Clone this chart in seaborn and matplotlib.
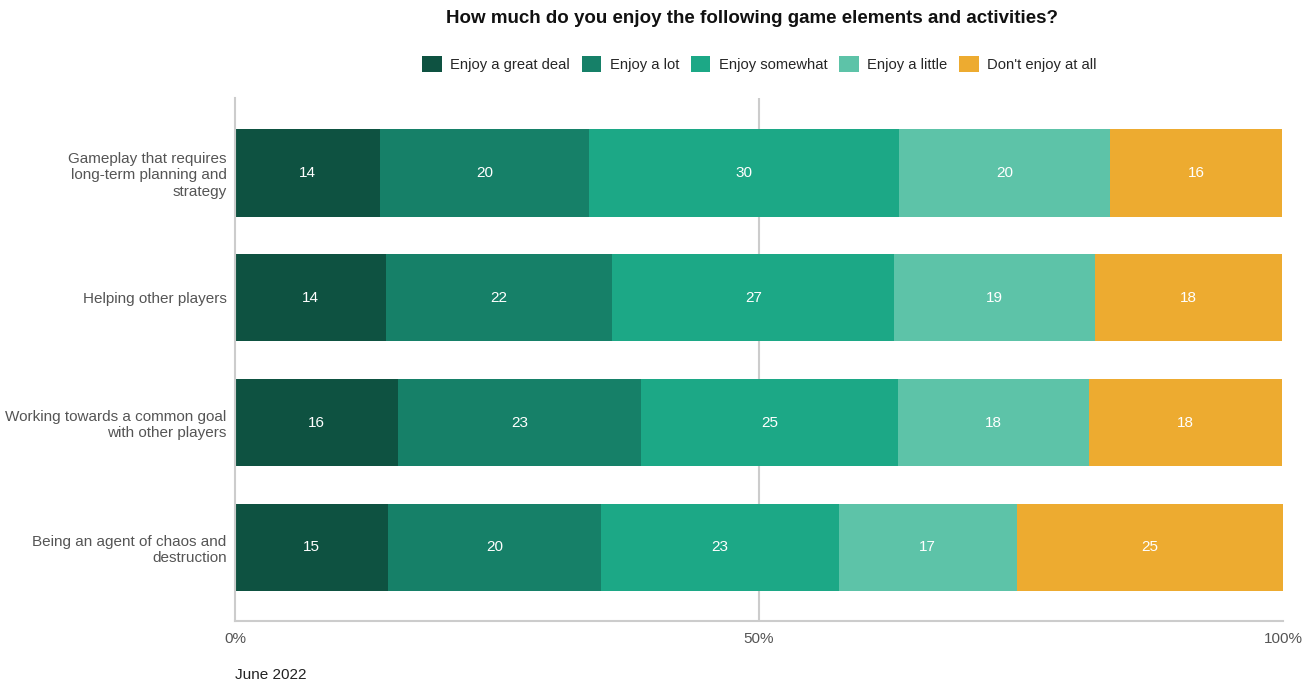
import numpy as np
import pandas as pd
import matplotlib
matplotlib.use("Agg")
import matplotlib.pyplot as plt
import seaborn as sns
from matplotlib.patches import Patch

# Survey data (percent of respondents)
categories = [
    "Gameplay that requires\nlong-term planning and\nstrategy",
    "Helping other players",
    "Working towards a common goal\nwith other players",
    "Being an agent of chaos and\ndestruction",
]
levels = ["Enjoy a great deal", "Enjoy a lot", "Enjoy somewhat", "Enjoy a little", "Don't enjoy at all"]
great_deal = [13.8, 14.4, 15.6, 14.6]
a_lot = [20.0, 21.6, 23.1, 20.3]
somewhat = [29.6, 26.9, 24.6, 22.7]
a_little = [20.1, 19.2, 18.2, 17.0]
not_at_all = [16.4, 17.8, 18.4, 25.4]
labels = [
    [14, 20, 30, 20, 16],
    [14, 22, 27, 19, 18],
    [16, 23, 25, 18, 18],
    [15, 20, 23, 17, 25],
]
colors = ["#0e5241", "#168068", "#1ca886", "#5dc3a8", "#edab30"]

sns.set_style("white")
plt.rcParams["font.family"] = ["Liberation Sans", "DejaVu Sans"]

df = pd.DataFrame({"category": categories})
series = [great_deal, a_lot, somewhat, a_little, not_at_all]
cum = np.cumsum(np.array(series), axis=0)

fig = plt.figure(figsize=(13.12, 6.85), dpi=100)
ax = fig.add_axes([0.1791, 0.0934, 0.7988, 0.7636])

# only a 50% gridline in the reference
ax.axvline(50, color="#cccccc", linewidth=1.5, zorder=0)

# stacked bars: draw cumulative totals from largest to smallest
for i in range(len(levels) - 1, -1, -1):
    d = df.copy()
    d["value"] = cum[i]
    sns.barplot(data=d, x="value", y="category", color=colors[i], orient="h",
                width=0.7, saturation=1, linewidth=0, ax=ax, zorder=2)

# value labels
for r in range(len(categories)):
    for i in range(len(levels)):
        start = cum[i - 1][r] if i > 0 else 0
        mid = start + series[i][r] / 2
        ax.text(mid, r, str(labels[r][i]), ha="center", va="center",
                color="white", fontsize=11, zorder=3)

ax.set_xlim(0, 100)
ax.set_ylim(3.59, -0.6)
ax.set_xticks([0, 50, 100])
ax.set_xticklabels(["0%", "50%", "100%"])
ax.set_xlabel("")
ax.set_ylabel("")
ax.grid(False)
for s in ["top", "right"]:
    ax.spines[s].set_visible(False)
for s in ["left", "bottom"]:
    ax.spines[s].set_color("#cccccc")
    ax.spines[s].set_linewidth(1.5)
ax.tick_params(axis="both", length=0, labelsize=11, labelcolor="#555555")
ax.tick_params(axis="x", pad=8)
ax.tick_params(axis="y", pad=6)

fig.text(0.573, 0.973, "How much do you enjoy the following game elements and activities?",
         ha="center", va="center", fontsize=13.5, fontweight="bold", color="#111111")

handles = [Patch(facecolor=c, edgecolor="none") for c in colors]
fig.legend(handles, levels, loc="center", bbox_to_anchor=(0.579, 0.907), ncol=5,
           frameon=False, fontsize=10.6, handlelength=1.3, handleheight=1.3,
           handletextpad=0.6, columnspacing=0.8)

fig.text(235 / 1312, 1 - 675 / 685, "June 2022", ha="left", va="center",
         fontsize=11, color="#222222")

fig.savefig("out.png", dpi=100)
